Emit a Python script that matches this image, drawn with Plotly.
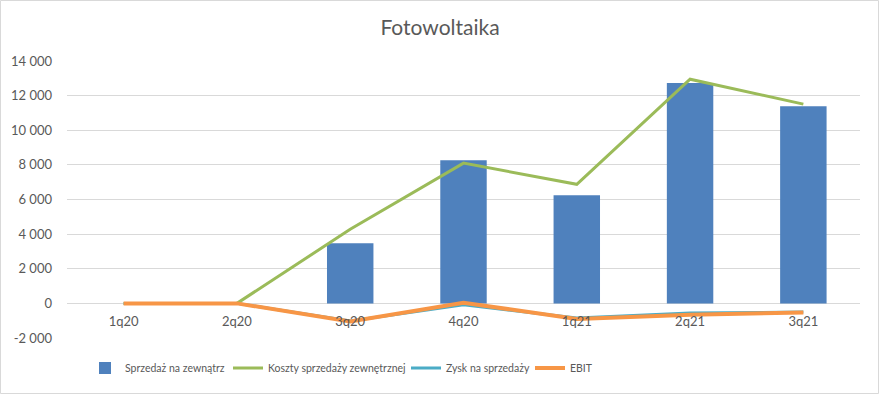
import plotly.graph_objects as go

categories = ["1q20", "2q20", "3q20", "4q20", "1q21", "2q21", "3q21"]
sprzedaz = [None, None, 3470, 8270, 6240, 12730, 11390]
koszty = [0, 0, 4280, 8100, 6880, 12950, 11510]
zysk = [0, 0, -1020, -80, -850, -560, -500]
ebit = [0, 0, -1040, 40, -900, -660, -520]
y_tickvals = [-2000, 0, 2000, 4000, 6000, 8000, 10000, 12000, 14000]
y_ticktext = ["-2 000", "0", "2 000", "4 000", "6 000", "8 000", "10 000", "12 000", "14 000"]

font_family = "Lato, Open Sans, sans-serif"
grey = "#595959"

fig = go.Figure()
fig.add_trace(go.Bar(x=categories, y=sprzedaz, name="Sprzedaż na zewnątrz", legend="legend",
                     marker=dict(color="#4F81BD", line=dict(width=0)), width=0.41))
fig.add_trace(go.Scatter(x=categories, y=koszty, name="Koszty sprzedaży zewnętrznej", legend="legend2",
                         mode="lines", line=dict(color="#9BBB59", width=3)))
fig.add_trace(go.Scatter(x=categories, y=zysk, name="Zysk na sprzedaży", legend="legend3",
                         mode="lines", line=dict(color="#4BACC6", width=3)))
fig.add_trace(go.Scatter(x=categories, y=ebit, name="EBIT", legend="legend4",
                         mode="lines", line=dict(color="#F79646", width=4)))

W, H = 880, 395
ml, mr, mt, mb = 67, 20, 61, 57
pw, ph = W - ml - mr, H - mt - mb

def leg(text_x):
    return dict(orientation="h", x=(text_x - 40 - ml) / pw, xanchor="left",
                y=-(368 - 338) / ph, yanchor="middle", itemwidth=30,
                font=dict(size=10.5, color=grey, family=font_family),
                bgcolor="rgba(0,0,0,0)", borderwidth=0)

fig.update_layout(
    width=W, height=H,
    margin=dict(l=ml, r=mr, t=mt, b=mb),
    paper_bgcolor="white", plot_bgcolor="white",
    font=dict(family=font_family, color=grey, size=13),
    title=dict(text="Fotowoltaika", x=0.5, xanchor="center", y=1 - 28 / H, yanchor="middle",
               font=dict(size=21, color=grey, family=font_family)),
    showlegend=True,
    legend=leg(125), legend2=leg(268), legend3=leg(446), legend4=leg(570),
    xaxis=dict(showgrid=False, showline=False, ticks="", anchor="free",
               position=2000 / 16000, ticklabelstandoff=9, tickfont=dict(size=13, color=grey)),
    yaxis=dict(range=[-2000, 14000], tickvals=y_tickvals, ticktext=y_ticktext,
               showgrid=True, gridcolor="#D9D9D9", gridwidth=1, zeroline=True,
               zerolinecolor="#D9D9D9", zerolinewidth=1, showline=False, ticks="",
               ticklabelstandoff=14, tickfont=dict(size=13, color=grey)),
)

fig.add_shape(type="rect", xref="paper", yref="paper",
              x0=-(ml - 0.5) / pw, x1=1 + (mr - 1.5) / pw,
              y0=-(mb - 1.5) / ph, y1=1 + (mt - 0.5) / ph,
              line=dict(color="#D9D9D9", width=1), fillcolor="rgba(0,0,0,0)", layer="below")

fig.write_html("out.html", config={"displayModeBar": False},
               post_script="document.body.style.margin='0';")
